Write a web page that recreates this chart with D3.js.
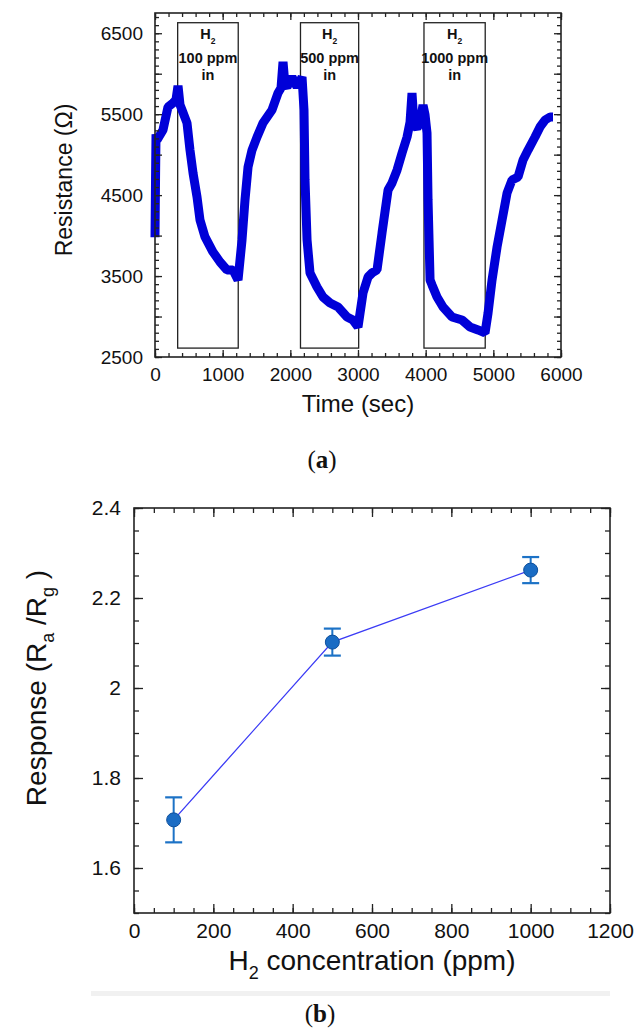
<!DOCTYPE html>
<html>
<head>
<meta charset="utf-8">
<script src="https://cdn.jsdelivr.net/npm/d3@7.9.0/dist/d3.min.js"></script>
<style>
  body { margin: 0; background: #fff; }
  svg { display: block; }
  text { font-family: "Liberation Sans", Arial, sans-serif; fill: #111; }
</style>
</head>
<body>
<svg id="fig" width="637" height="1032"></svg>
<script>
// ---- (a) resistance vs time ----
const timeSec = [0, 8, 15, 30, 118, 192, 266, 310, 340, 370, 399, 473, 517, 562, 621, 665, 739, 857, 961,
  1064, 1153, 1227, 1286, 1330, 1375, 1434, 1508, 1596, 1729, 1818, 1862, 1892, 1921, 1951, 2025, 2099,
  2173, 2202, 2217, 2247, 2291, 2394, 2483, 2587, 2705, 2838, 2926, 3000, 3074, 3148, 3207, 3281, 3355,
  3444, 3503, 3577, 3651, 3725, 3769, 3798, 3828, 3872, 3917, 3961, 3991, 4020, 4035, 4065, 4094, 4168,
  4256, 4390, 4537, 4656, 4774, 4877, 4922, 4981, 5055, 5129, 5203, 5276, 5365, 5439, 5513, 5616, 5690,
  5764, 5838, 5882];
const resistanceOhm = [3980, 4700, 5250, 5180, 5305, 5589, 5638, 5675, 5850, 5615, 5552, 5391, 5057, 4773,
  4477, 4193, 3983, 3797, 3674, 3575, 3575, 3451, 3946, 4440, 4847, 5057, 5218, 5391, 5552, 5762, 5823,
  6145, 5860, 5836, 5959, 5836, 5959, 5552, 4687, 3946, 3538, 3365, 3241, 3167, 3118, 2994, 2957, 2871,
  3291, 3488, 3538, 3575, 4032, 4563, 4650, 4810, 5020, 5218, 5403, 5762, 5366, 5329, 5391, 5613, 5490,
  5268, 4440, 3451, 3390, 3241, 3118, 2994, 2957, 2871, 2834, 2797, 3044, 3451, 3859, 4193, 4526, 4687,
  4724, 4934, 5057, 5218, 5342, 5428, 5465, 5465];

// gas-on windows (start, end in sec) and their labels
const gasStart = [335, 2150, 3975];
const gasEnd = [1230, 3010, 4880];
const gasLabels = ['100 ppm', '500 ppm', '1000 ppm'];
const boxLow = 2610, boxHigh = 6630;

const timeTicks = [0, 1000, 2000, 3000, 4000, 5000, 6000];
const resTicks = [2500, 3500, 4500, 5500, 6500];

// ---- (b) response vs concentration ----
const concPpm = [100, 500, 1000];
const responseVal = [1.707, 2.102, 2.262];
const responseErr = [0.05, 0.03, 0.029];
const concTicks = [0, 200, 400, 600, 800, 1000, 1200];
const respTicks = [1.6, 1.8, 2.0, 2.2, 2.4];

const svg = d3.select('#fig');

// draw inward ticks on all four sides of a frame
function frameAxes(g, x, y, opt) {
    const [x0, x1] = x.range();
    const [y0, y1] = y.range(); // y0 = bottom
    const add = (axis, tr, cls) => g.append('g').attr('class', cls).attr('transform', tr).call(axis)
        .call(s => s.select('.domain').remove());

    // minor ticks
    add(d3.axisBottom(x).tickValues(opt.xMinor).tickSize(-opt.minor).tickFormat(''), `translate(0,${y0})`, 'mn');
    add(d3.axisTop(x).tickValues(opt.xMinor).tickSize(-opt.minor).tickFormat(''), `translate(0,${y1})`, 'mn');
    add(d3.axisLeft(y).tickValues(opt.yMinor).tickSize(-opt.minor).tickFormat(''), `translate(${x0},0)`, 'mn');
    add(d3.axisRight(y).tickValues(opt.yMinor).tickSize(-opt.minor).tickFormat(''), `translate(${x1},0)`, 'mn');
    // major ticks
    add(d3.axisBottom(x).tickValues(opt.xMajor).tickSize(-opt.major).tickPadding(opt.xPad).tickFormat(opt.xFmt),
        `translate(0,${y0})`, 'mj xl');
    add(d3.axisTop(x).tickValues(opt.xMajor).tickSize(-opt.major).tickFormat(''), `translate(0,${y1})`, 'mj');
    add(d3.axisLeft(y).tickValues(opt.yMajorTicks).tickSize(-opt.major).tickFormat(''), `translate(${x0},0)`, 'mj');
    add(d3.axisRight(y).tickValues(opt.yMajorTicks).tickSize(-opt.major).tickFormat(''), `translate(${x1},0)`, 'mj');
    add(d3.axisLeft(y).tickValues(opt.yMajor).tickSize(0).tickPadding(opt.yPad).tickFormat(opt.yFmt),
        `translate(${x0},0)`, 'yl');

    g.selectAll('.tick line').attr('stroke', '#222').attr('stroke-width', 1.3);
    g.selectAll('.tick text').attr('font-size', opt.fs).attr('fill', '#111')
        .attr('font-family', '"Liberation Sans", Arial, sans-serif');

    g.append('rect').attr('x', x0).attr('y', y1).attr('width', x1 - x0).attr('height', y0 - y1)
        .attr('fill', 'none').attr('stroke', '#222').attr('stroke-width', 1.6);
}

// ================= (a) =================
const xA = d3.scaleLinear().domain([0, 6000]).range([155, 561]);
const yA = d3.scaleLinear().domain([2500, 6750]).range([357, 13]);
const gA = svg.append('g');

// gas windows
gasStart.forEach((s, i) => {
    gA.append('rect')
        .attr('x', xA(s)).attr('y', yA(boxHigh))
        .attr('width', xA(gasEnd[i]) - xA(s)).attr('height', yA(boxLow) - yA(boxHigh))
        .attr('fill', 'none').attr('stroke', '#222').attr('stroke-width', 1.3);
    const cx = (xA(s) + xA(gasEnd[i])) / 2;
    const top = yA(boxHigh);
    const h = gA.append('text').attr('x', cx).attr('y', top + 16).attr('text-anchor', 'middle')
        .attr('font-size', 14.5).attr('font-weight', 'bold');
    h.append('tspan').text('H');
    h.append('tspan').attr('font-size', 8.5).attr('dy', 5).text('2');
    gA.append('text').attr('x', cx).attr('y', top + 40).attr('text-anchor', 'middle')
        .attr('font-size', 14.5).attr('font-weight', 'bold').text(gasLabels[i]);
    gA.append('text').attr('x', cx).attr('y', top + 57).attr('text-anchor', 'middle')
        .attr('font-size', 14.5).attr('font-weight', 'bold').text('in');
});

// resistance trace
const lineA = d3.line().x((d, i) => xA(timeSec[i])).y(d => yA(d));
gA.append('path').datum(resistanceOhm).attr('d', lineA)
    .attr('fill', 'none').attr('stroke', '#0000d8').attr('stroke-width', 9)
    .attr('stroke-linejoin', 'bevel');

frameAxes(gA, xA, yA, {
    xMajor: timeTicks, xMinor: d3.range(0, 6001, 200),
    yMajor: resTicks, yMajorTicks: d3.range(2500, 6751, 500), yMinor: d3.range(2500, 6751, 100),
    major: 7, minor: 4, xPad: 11, yPad: 12, fs: 19,
    xFmt: d3.format('d'), yFmt: d3.format('d')
});

gA.append('text').attr('x', 358).attr('y', 412).attr('text-anchor', 'middle')
    .attr('font-size', 24).text('Time (sec)');
gA.append('text').attr('transform', 'translate(72,180) rotate(-90)').attr('text-anchor', 'middle')
    .attr('font-size', 23).text('Resistance (Ω)');

const capA = svg.append('text').attr('x', 322).attr('y', 468).attr('text-anchor', 'middle')
    .attr('font-size', 25).style('font-family', '"Liberation Serif", serif');
capA.append('tspan').text('(');
capA.append('tspan').attr('font-weight', 'bold').text('a');
capA.append('tspan').text(')');

// ================= (b) =================
const xB = d3.scaleLinear().domain([0, 1200]).range([134, 610]);
const yB = d3.scaleLinear().domain([1.5, 2.4]).range([913, 508]);
const gB = svg.append('g');

frameAxes(gB, xB, yB, {
    xMajor: concTicks, xMinor: d3.range(0, 1201, 50),
    yMajor: respTicks, yMajorTicks: respTicks, yMinor: d3.range(1.5, 2.4001, 0.05),
    major: 9, minor: 5, xPad: 10, yPad: 13, fs: 21,
    xFmt: d3.format('d'), yFmt: d => d3.format('~g')(d)
});

const lineB = d3.line().x((d, i) => xB(concPpm[i])).y(d => yB(d));
gB.append('path').datum(responseVal).attr('d', lineB)
    .attr('fill', 'none').attr('stroke', '#3b3bf5').attr('stroke-width', 1.3);

const errColor = '#1c72c6';
concPpm.forEach((c, i) => {
    const x = xB(c), yt = yB(responseVal[i] + responseErr[i]), yb = yB(responseVal[i] - responseErr[i]);
    gB.append('line').attr('x1', x).attr('x2', x).attr('y1', yt).attr('y2', yb)
        .attr('stroke', errColor).attr('stroke-width', 2);
    [yt, yb].forEach(y => gB.append('line').attr('x1', x - 8.5).attr('x2', x + 8.5).attr('y1', y).attr('y2', y)
        .attr('stroke', errColor).attr('stroke-width', 2.2));
});
gB.selectAll('circle.pt').data(responseVal).join('circle').attr('class', 'pt')
    .attr('cx', (d, i) => xB(concPpm[i])).attr('cy', d => yB(d)).attr('r', 7)
    .attr('fill', '#1a6cc4').attr('stroke', '#0d4f9c').attr('stroke-width', 1);

const xt = gB.append('text').attr('x', 372).attr('y', 970).attr('text-anchor', 'middle').attr('font-size', 28);
xt.append('tspan').text('H');
xt.append('tspan').attr('font-size', 18).attr('dy', 9).text('2');
xt.append('tspan').attr('dy', -9).text(' concentration (ppm)');

const yt = gB.append('text').attr('transform', 'translate(46,688) rotate(-90)')
    .attr('text-anchor', 'middle').attr('font-size', 28);
yt.append('tspan').text('Response (R');
yt.append('tspan').attr('font-size', 18).attr('dy', 8).text('a');
yt.append('tspan').attr('dy', -8).text(' /R');
yt.append('tspan').attr('font-size', 18).attr('dy', 8).text('g');
yt.append('tspan').attr('dy', -8).text(' )');

// faint scan artefact strip under panel (b)
svg.append('rect').attr('x', 91).attr('y', 991).attr('width', 519).attr('height', 5).attr('fill', '#f1f1f1');

const capB = svg.append('text').attr('x', 320).attr('y', 1022).attr('text-anchor', 'middle')
    .attr('font-size', 25).style('font-family', '"Liberation Serif", serif');
capB.append('tspan').text('(');
capB.append('tspan').attr('font-weight', 'bold').text('b');
capB.append('tspan').text(')');
</script>
</body>
</html>
